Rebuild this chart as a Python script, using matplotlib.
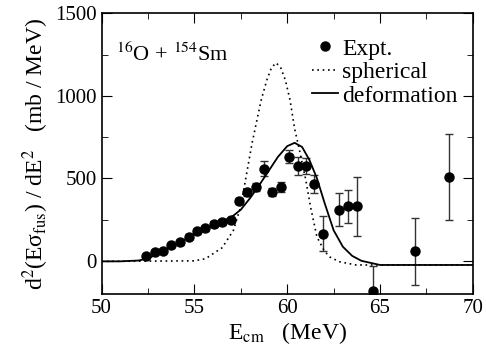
import matplotlib
matplotlib.use("Agg")
from matplotlib import pyplot as plt
from matplotlib.ticker import MultipleLocator

# experimental points (E_cm in MeV, d2(E sigma)/dE2 in mb/MeV)
expt_e = [52.39, 52.88, 53.32, 53.75, 54.22, 54.69, 55.14, 55.59, 56.05, 56.49,
          56.97, 57.38, 57.83, 58.30, 58.75, 59.20, 59.67, 60.12, 60.60, 61.01,
          61.46, 61.93, 62.81, 63.28, 63.76, 64.64, 66.89, 68.74]
expt_y = [32, 52, 60, 96, 112, 145, 179, 197, 224, 234,
          250, 363, 416, 446, 559, 418, 448, 630, 575, 575,
          464, 165, 311, 331, 331, -181, 58, 509]
expt_err = [12, 12, 12, 14, 14, 15, 15, 16, 16, 17,
            18, 20, 22, 24, 47, 25, 28, 40, 54, 50,
            55, 107, 101, 100, 180, 152, 203, 259]

# spherical calculation
sph_e = [50, 55, 55.6, 56.5, 57.1, 57.5, 57.8, 58.1, 58.4, 58.6, 58.9, 59.15, 59.4,
         59.65, 59.9, 60.15, 60.4, 60.7, 61.0, 61.25, 61.6, 62.0, 62.3, 62.8, 63.7, 70]
sph_y = [-3, 0, 13, 80, 185, 330, 520, 710, 870, 975, 1095, 1170, 1200,
         1170, 1095, 975, 800, 650, 490, 330, 145, 60, 23, -5, -25, -25]

# deformed calculation
def_e = [50, 51, 52, 52.5, 53, 53.5, 54, 54.5, 55, 55.5, 56, 56.5, 57, 57.5, 58,
         58.5, 59, 59.5, 60, 60.4, 60.8, 61.2, 61.6, 62, 62.5, 63, 63.5, 64, 65, 70]
def_y = [-3, -3, 2, 15, 40, 70, 100, 130, 160, 190, 215, 240, 265, 310, 380,
         460, 545, 630, 695, 715, 690, 610, 500, 355, 185, 85, 30, 0, -25, -25]

plt.rcParams['font.family'] = ['Liberation Serif', 'DejaVu Serif']
plt.rcParams['mathtext.fontset'] = 'stix'

fig = plt.figure(figsize=(4.86, 3.49), dpi=100)
ax = fig.add_axes([0.209, 0.158, 0.764, 0.804])

eb = ax.errorbar(expt_e, expt_y, yerr=expt_err, fmt='o', color='black', ms=6.5,
                 ecolor='#333333', elinewidth=1, capsize=2.8, capthick=1)
sph, = ax.plot(sph_e, sph_y, color='black', lw=1.2, dashes=(1, 2.2))
dfm, = ax.plot(def_e, def_y, '-', color='black', lw=1.3)

ax.set_xlim(50, 70)
ax.set_ylim(-200, 1500)
ax.xaxis.set_major_locator(MultipleLocator(5))
ax.xaxis.set_minor_locator(MultipleLocator(2.5))
ax.yaxis.set_major_locator(MultipleLocator(500))
ax.yaxis.set_minor_locator(MultipleLocator(250))
ax.tick_params(which='both', direction='in', top=True, right=True, labelsize=15)
ax.tick_params(which='major', length=7)
ax.tick_params(which='minor', length=4.5)
for s in ax.spines.values():
    s.set_linewidth(1.2)

ax.set_xlabel(r'E$_{\rm cm}$   (MeV)', fontsize=17, labelpad=2)
ax.set_ylabel(r'd$^2$(Eσ$_{\rm fus}$) / dE$^2$   (mb / MeV)', fontsize=17, labelpad=3)

ax.text(0.04, 0.83, r'$^{16}$O + $^{154}$Sm', transform=ax.transAxes, fontsize=16)

ax.legend([eb[0], sph, dfm], ['Expt.', 'spherical', 'deformation'],
          loc='upper right', bbox_to_anchor=(0.985, 0.945), borderaxespad=0,
          frameon=False, fontsize=17, handlelength=1.1,
          handletextpad=0.2, labelspacing=0.08, numpoints=1)

fig.savefig('out.png', dpi=100)
